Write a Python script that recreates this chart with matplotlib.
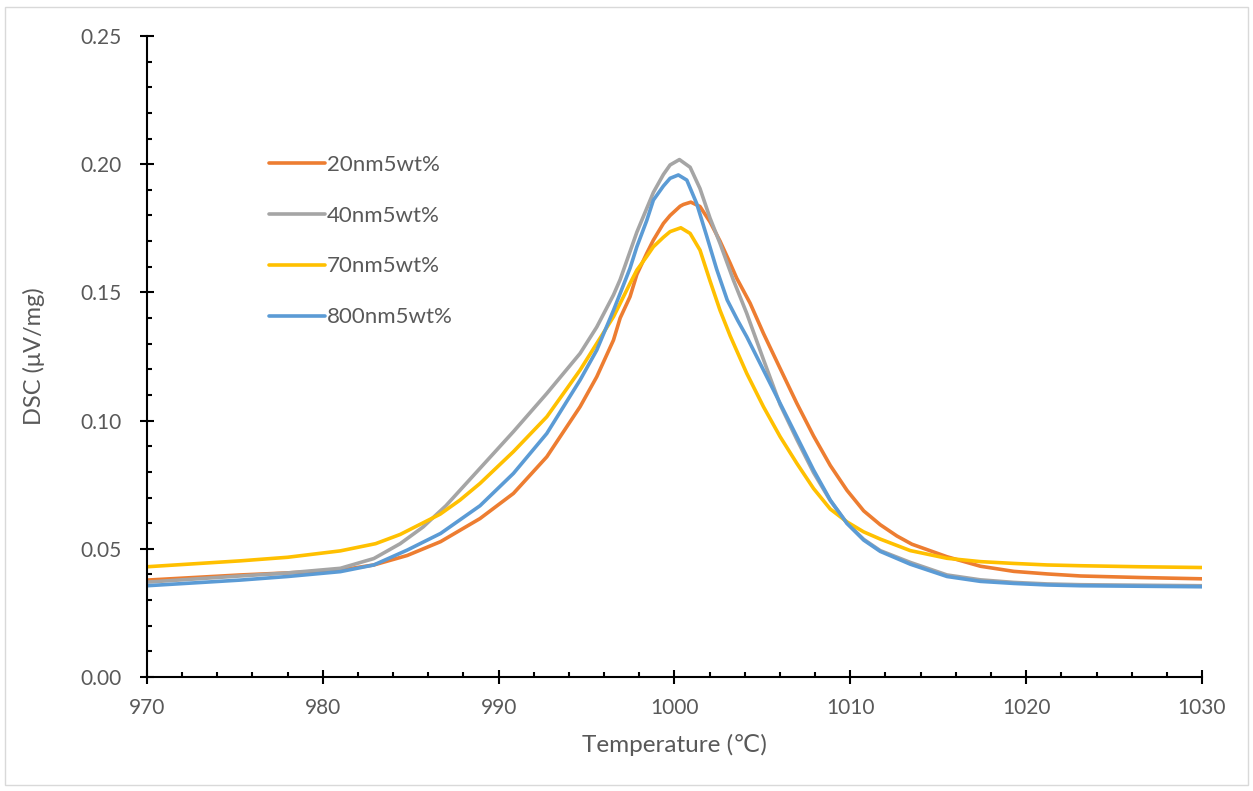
import matplotlib
matplotlib.use("Agg")
from matplotlib import pyplot as plt
from matplotlib.patches import Rectangle
from matplotlib.ticker import MultipleLocator, FormatStrFormatter

# temperatures (C) and DSC values (uV/mg)
t20 = [970, 975.3, 978.0, 981.0, 982.9, 984.8, 986.7, 988.94, 990.84, 992.74, 994.63, 995.58,
       996.53, 996.91, 997.47, 997.86, 998.42, 998.8, 999.37, 999.75, 1000.32, 1000.51, 1000.93,
       1001.45, 1002.02, 1002.59, 1003.17, 1003.54, 1004.3, 1005.06, 1006.01, 1006.96, 1007.91,
       1008.86, 1009.81, 1010.76, 1011.7, 1012.65, 1013.5, 1015.5, 1017.4, 1019.3, 1021.2,
       1023.1, 1026.5, 1030]
v20 = [0.0378, 0.0398, 0.0406, 0.0417, 0.0437, 0.0474, 0.0528, 0.0618, 0.0716, 0.0859, 0.1054, 0.1171,
       0.1314, 0.1400, 0.1483, 0.1570, 0.1652, 0.1704, 0.1769, 0.1800, 0.1836, 0.1843, 0.1852,
       0.1835, 0.1775, 0.1700, 0.1613, 0.1555, 0.1458, 0.1340, 0.1203, 0.1067, 0.0940,
       0.0825, 0.0728, 0.0648, 0.0594, 0.0550, 0.0518, 0.0469, 0.0432, 0.0412, 0.0402,
       0.0394, 0.0388, 0.0383]

t40 = [970, 975.3, 978.0, 981.0, 982.9, 984.4, 985.7, 987.0, 988.94, 990.84, 992.74, 994.63,
       995.58, 996.53, 996.91, 997.86, 998.8, 999.37, 999.75, 1000.28, 1000.89, 1001.45, 1002.02,
       1002.59, 1003.35, 1004.11, 1005.06, 1006.01, 1006.96, 1007.91, 1008.86, 1009.81, 1010.76,
       1011.7, 1013.41, 1015.5, 1017.4, 1019.3, 1021.2, 1023.1, 1026.5, 1030]
v40 = [0.0370, 0.0394, 0.0406, 0.0424, 0.0462, 0.0520, 0.0585, 0.0668, 0.0814, 0.0957, 0.1106, 0.1262,
       0.1365, 0.1490, 0.1550, 0.1735, 0.1890, 0.1960, 0.1997, 0.2018, 0.1988, 0.1905, 0.1790,
       0.1691, 0.1548, 0.1418, 0.1238, 0.1062, 0.0926, 0.0797, 0.0688, 0.0600, 0.0537,
       0.0493, 0.0447, 0.0398, 0.0379, 0.0369, 0.0363, 0.0360, 0.0358, 0.0356]

t70 = [970, 975.3, 978.0, 981.0, 983.0, 984.4, 986.67, 987.8, 988.94, 990.84, 992.74, 994.63,
       995.58, 996.53, 996.91, 997.47, 997.86, 998.42, 998.8, 999.37, 999.75, 1000.36, 1000.89,
       1001.45, 1002.02, 1002.59, 1003.17, 1004.11, 1005.06, 1006.01, 1006.96, 1007.91, 1008.86,
       1009.81, 1010.76, 1011.7, 1013.41, 1015.5, 1017.4, 1019.3, 1021.2, 1023.1, 1026.5, 1030]
v70 = [0.0430, 0.0453, 0.0467, 0.0492, 0.0520, 0.0556, 0.0635, 0.0690, 0.0755, 0.0879, 0.1015, 0.1197,
       0.1301, 0.1405, 0.1457, 0.1535, 0.1587, 0.1640, 0.1678, 0.1715, 0.1737, 0.1752, 0.1730,
       0.1665, 0.1545, 0.1430, 0.1330, 0.1184, 0.1054, 0.0937, 0.0833, 0.0735, 0.0655,
       0.0605, 0.0566, 0.0538, 0.0493, 0.0463, 0.0450, 0.0443, 0.0437, 0.0434, 0.0430, 0.0427]

t800 = [970, 975.3, 978.0, 981.0, 982.9, 984.8, 986.7, 988.94, 990.84, 992.74, 994.63, 995.58,
        996.53, 996.91, 997.47, 997.86, 998.42, 998.8, 999.37, 999.75, 1000.22, 1000.70, 1001.26,
        1001.83, 1002.4, 1003.0, 1003.6, 1004.11, 1005.06, 1006.01, 1006.96, 1007.91, 1008.86,
        1009.81, 1010.76, 1011.7, 1013.41, 1015.5, 1017.4, 1019.3, 1021.2, 1023.1, 1026.5, 1030]
v800 = [0.0356, 0.0378, 0.0392, 0.0411, 0.0437, 0.0495, 0.0560, 0.0668, 0.0794, 0.0950, 0.1158, 0.1275,
        0.1430, 0.1496, 0.1594, 0.1678, 0.1780, 0.1860, 0.1915, 0.1945, 0.1958, 0.1938, 0.1847,
        0.1720, 0.1590, 0.1470, 0.1390, 0.1327, 0.1197, 0.1067, 0.0937, 0.0807, 0.0690,
        0.0599, 0.0534, 0.0490, 0.0440, 0.0392, 0.0373, 0.0365, 0.0359, 0.0356, 0.0354, 0.0352]

labels = ["20nm5wt%", "40nm5wt%", "70nm5wt%", "800nm5wt%"]
colors = ["#ED7D31", "#A5A5A5", "#FFC000", "#5B9BD5"]

plt.rcParams['font.family'] = ['Lato', 'DejaVu Sans']

fig = plt.figure(figsize=(12.53, 7.91), dpi=100)
ax = fig.add_axes([0.1173, 0.1441, 0.8420, 0.8104])

for t, v, lab, c in zip([t20, t40, t70, t800], [v20, v40, v70, v800], labels, colors):
    ax.plot(t, v, color=c, lw=2.6, label=lab, solid_capstyle='round', solid_joinstyle='round')

ax.set_xlim(970, 1030)
ax.set_ylim(0, 0.25)
ax.xaxis.set_major_locator(MultipleLocator(10))
ax.xaxis.set_minor_locator(MultipleLocator(2))
ax.yaxis.set_major_locator(MultipleLocator(0.05))
ax.yaxis.set_minor_locator(MultipleLocator(0.01))
ax.yaxis.set_major_formatter(FormatStrFormatter('%.2f'))

for s in ['top', 'right']:
    ax.spines[s].set_visible(False)
for s in ['left', 'bottom']:
    ax.spines[s].set_linewidth(1.5)
    ax.spines[s].set_color('black')

ax.tick_params(axis='x', which='major', direction='inout', length=9.5, width=1.5,
               labelsize=15, labelcolor='#595959', pad=10)
ax.tick_params(axis='y', which='major', direction='inout', length=10, width=1.5,
               labelsize=15, labelcolor='#595959', pad=13)
ax.tick_params(which='minor', direction='in', length=3.8, width=1.5)

ax.set_xlabel("Temperature (\u2103)", fontsize=17.5, color='#595959',
              family=['Lato', 'Liberation Serif', 'DejaVu Sans'], labelpad=12)
ax.set_ylabel("DSC (\u03bcV/mg)", fontsize=17, color='#595959', labelpad=26)

leg = ax.legend(loc='upper left', bbox_to_anchor=(0.097, 0.846), frameon=False,
                fontsize=16, handlelength=2.5, handletextpad=0.1, labelspacing=1.39)
for txt in leg.get_texts():
    txt.set_color('#595959')

# light chart-area border
fig.patches.append(Rectangle((0.004, 0.008), 0.992, 0.983, transform=fig.transFigure,
                             fill=False, edgecolor='#D9D9D9', lw=1.0))

fig.savefig("out.png", dpi=100)
plt.close()
